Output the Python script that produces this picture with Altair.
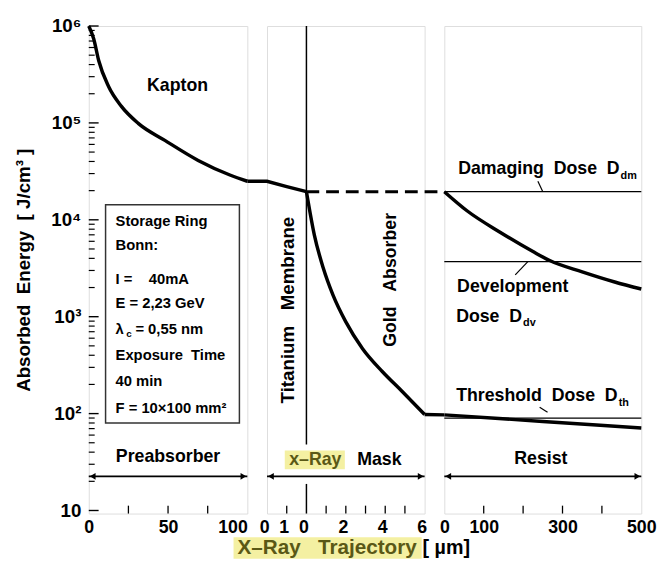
import altair as alt
import pandas as pd

NB = "\u00a0"
FONT = "Liberation Sans"
OLIVE = "#5a5816"
HIGHLIGHT = "#f4f0a2"

# ---------------- data ----------------
KAPTON_X = [0, 3.1, 6.25, 12.5, 20.6, 31.2, 48, 69, 89, 100]
KAPTON_E = [1.0e6, 7.4e5, 4.4e5, 2.37e5, 1.48e5, 9.9e4, 6.6e4, 4.1e4, 2.9e4, 2.5e4]

TI_X = [-1, 0, 1, 2]
TI_E = [2.5e4, 2.5e4, 2.2e4, 1.95e4]

GOLD_X = [2, 2.4, 2.85, 3.35, 4.0, 4.85, 5.85, 6.85, 8]
GOLD_E = [1.95e4, 7.0e3, 3.2e3, 1.67e3, 885, 468, 272, 170, 98]

GAP_X = [8, 9]
GAP_E = [98, 97]

DASH_X = [2, 9]
DASH_E = [1.95e4, 1.95e4]

RES_HIGH_X = [0, 57.5, 142.5, 225, 267.5, 350, 432.5, 500]
RES_HIGH_E = [1.95e4, 1.24e4, 7.4e3, 4.7e3, 3.8e3, 2.9e3, 2.28e3, 1.93e3]

RES_LOW_X = [0, 250, 500]
RES_LOW_E = [97, 83, 71]

DOSE_E = [1.95e4, 3.7e3, 90]          # damaging, development, threshold
SPAN_E = 22.5                        # level of the thickness arrows

MEMBRANE_X = 2
MEMBRANE_TOP = [1e6, 48]
MEMBRANE_BOTTOM = [9.3, 18.8]

Y_DOMAIN = [9.3, 1e6]
Y_TICKS = [10, 100, 1000, 10000, 100000, 1000000]
Y_TICK_LABELS = ["10", "10²", "10³", "10⁴", "10⁵", "10⁶"]
Y_MINOR = [m * 10 ** k for k in range(1, 6) for m in range(2, 10)]

P1_DOMAIN = [0, 100]
P1_TICKS = [0, 50, 100]
P1_TICK_LABELS = ["0", "50", "100"]
P1_INNER = [25, 50, 75]

P2_DOMAIN = [0, 8]
P2_TICKS = [0, 1, 2, 4, 6, 8]
P2_TICK_LABELS = ["0", "1", "0", "2", "4", "6"]
P2_INNER = [1, 3, 4, 5, 6, 7]

P3_DOMAIN = [0, 500]
P3_TICKS = [0, 100, 300, 500]
P3_TICK_LABELS = ["0", "100", "300", "500"]
P3_INNER = [100, 200, 300, 400]

INFO_BOX = dict(x=[10.6], x2=[95], e=[1.43e4], e2=[80])
INFO_TEXT = ["Storage Ring", "Bonn:", f"I{NB}={NB*4}40mA", f"E{NB}={NB}2,23{NB}GeV",
             "λ", f"={NB}0,55{NB}nm", f"Exposure{NB}{NB}Time", f"40{NB}min", f"F{NB}={NB}10×100{NB}mm²"]
INFO_X = [16.9, 16.9, 16.9, 16.9, 16.9, 29.4, 16.9, 16.9, 16.9]
INFO_E = [9.8e3, 5.45e3, 2.44e3, 1.38e3, 750, 750, 406, 215, 113]
LAMBDA_SUB = dict(x=[23.6], e=[660], t=["c"])

W1, W2, W3, H = 161, 160, 200, 495


def d(**cols):
    return pd.DataFrame(cols)


def yenc(axis=None):
    return alt.Y("e:Q", scale=alt.Scale(type="log", domain=Y_DOMAIN, nice=False), axis=axis)


def y2enc():
    return alt.Y2("e2:Q")


def xaxis(ticks, labels, align="center", offset=0):
    expr = "{" + ",".join(f"'{t}':'{l}'" for t, l in zip(ticks, labels)) + "}[datum.value]"
    return alt.Axis(values=ticks, labelExpr=expr, title=None, ticks=False, domain=False,
                    grid=False, labelFont=FONT, labelFontSize=18, labelFontWeight="bold",
                    labelPadding=5, labelFlush=False, labelColor="black",
                    labelAlign=align, labelOffset=offset)


YAXIS = alt.Axis(
    values=Y_TICKS,
    labelExpr="{" + ",".join(f"'{t}':'{l}'" for t, l in zip(Y_TICKS, Y_TICK_LABELS)) + "}[datum.value]",
    title=f"Absorbed{NB}{NB}Energy{NB}{NB}[{NB}J/cm³{NB}]",
    ticks=False, domain=False, grid=False,
    labelFont=FONT, labelFontSize=19, labelFontWeight="bold", labelColor="black",
    labelPadding=8, minExtent=40, maxExtent=40,
    titleFont=FONT, titleFontSize=19, titleFontWeight="bold", titleColor="black",
    titlePadding=16,
)


def txt(df, size=18, align="center", angle=0, color="black", **kw):
    return alt.Chart(df).mark_text(font=FONT, fontWeight="bold", fontSize=size, align=align,
                                   baseline="middle", angle=angle, color=color, **kw)


def panel(xdom, xax, inner, layers_fn, yaxis=None):
    def X(field="x"):
        return alt.X(f"{field}:Q", scale=alt.Scale(domain=xdom, nice=False, zero=False), axis=xax)
    layers = layers_fn(X, yaxis)
    # inner x ticks
    layers.append(alt.Chart(d(x=inner)).mark_rule(color="black", strokeWidth=1.3).encode(
        x=X(), y=alt.value(H), y2=alt.value(H - 8)))
    # thickness arrow
    layers.append(alt.Chart(d(x=[xdom[0]], x2=[xdom[1]], e=[SPAN_E])).mark_rule(
        color="black", strokeWidth=1.6).encode(x=X(), x2="x2:Q", y=yenc(yaxis)))
    layers.append(alt.Chart(d(x=[xdom[0]], e=[SPAN_E])).mark_point(
        shape="triangle-left", filled=True, size=45, color="black", opacity=1, xOffset=4
    ).encode(x=X(), y=yenc(yaxis)))
    layers.append(alt.Chart(d(x=[xdom[1]], e=[SPAN_E])).mark_point(
        shape="triangle-right", filled=True, size=45, color="black", opacity=1, xOffset=-4
    ).encode(x=X(), y=yenc(yaxis)))
    return alt.layer(*layers)


# ---------------- panel 1 : preabsorber ----------------
def p1_layers(X, ya):
    L = []
    L.append(alt.Chart(d(**INFO_BOX)).mark_rect(fill="white", stroke="#333", strokeWidth=1.5).encode(
        x=X(), x2="x2:Q", y=yenc(ya), y2=y2enc()))
    L.append(alt.Chart(d(x=KAPTON_X, e=KAPTON_E)).mark_line(
        color="black", strokeWidth=3.5, interpolate="monotone", clip=False).encode(x=X(), y=yenc(ya)))
    L.append(alt.Chart(d(e=Y_MINOR)).mark_rule(color="black", strokeWidth=1.2).encode(
        y=yenc(ya), x=alt.value(0), x2=alt.value(6)))
    L.append(alt.Chart(d(e=Y_TICKS)).mark_rule(color="black", strokeWidth=1.4).encode(
        y=yenc(ya), x=alt.value(0), x2=alt.value(10)))
    L.append(txt(d(x=INFO_X, e=INFO_E, t=INFO_TEXT), size=15, align="left").encode(
        x=X(), y=yenc(ya), text="t:N"))
    L.append(txt(d(**LAMBDA_SUB), size=10, align="left").encode(x=X(), y=yenc(ya), text="t:N"))
    L.append(txt(d(x=[56], e=[2.4e5], t=["Kapton"])).encode(x=X(), y=yenc(ya), text="t:N"))
    L.append(txt(d(x=[50], e=[36], t=["Preabsorber"])).encode(x=X(), y=yenc(ya), text="t:N"))
    return L


# ---------------- panel 2 : x-ray mask ----------------
def p2_layers(X, ya):
    L = []
    L.append(alt.Chart(d(x=[MEMBRANE_X], e=[MEMBRANE_TOP[0]], e2=[MEMBRANE_TOP[1]])).mark_rule(
        color="black", strokeWidth=1.5).encode(x=X(), y=yenc(ya), y2=y2enc()))
    L.append(alt.Chart(d(x=[MEMBRANE_X], e=[MEMBRANE_BOTTOM[0]], e2=[MEMBRANE_BOTTOM[1]])).mark_rule(
        color="black", strokeWidth=1.5).encode(x=X(), y=yenc(ya), y2=y2enc()))
    L.append(alt.Chart(d(x=TI_X, e=TI_E)).mark_line(
        color="black", strokeWidth=3.5, clip=False).encode(x=X(), y=yenc(ya)))
    L.append(alt.Chart(d(x=GOLD_X, e=GOLD_E)).mark_line(
        color="black", strokeWidth=3.5, interpolate="monotone", clip=False).encode(x=X(), y=yenc(ya)))
    L.append(alt.Chart(d(x=GAP_X, e=GAP_E)).mark_line(
        color="black", strokeWidth=3.5, clip=False).encode(x=X(), y=yenc(ya)))
    L.append(alt.Chart(d(x=DASH_X, e=DASH_E)).mark_line(
        color="black", strokeWidth=3, strokeDash=[13, 7], clip=False).encode(x=X(), y=yenc(ya)))
    L.append(txt(d(x=[1.05], e=[1.17e3], t=[f"Titanium{NB*3}Membrane"]), size=19, angle=270).encode(
        x=X(), y=yenc(ya), text="t:N"))
    L.append(txt(d(x=[6.3], e=[2.4e3], t=[f"Gold{NB*3}Absorber"]), size=18, angle=270).encode(
        x=X(), y=yenc(ya), text="t:N"))
    L.append(alt.Chart(d(x=[0.9], x2=[3.95], e=[26.7], e2=[41.7])).mark_rect(fill=HIGHLIGHT).encode(
        x=X(), x2="x2:Q", y=yenc(ya), y2=y2enc()))
    L.append(txt(d(x=[2.45], e=[33], t=["x–Ray"]), color=OLIVE).encode(x=X(), y=yenc(ya), text="t:N"))
    L.append(txt(d(x=[5.7], e=[33], t=["Mask"])).encode(x=X(), y=yenc(ya), text="t:N"))
    # overall x title, placed below the plot area
    L.append(alt.Chart(d(t=[0])).mark_rect(fill=HIGHLIGHT).encode(
        x=alt.value(-34), x2=alt.value(157), y=alt.value(H + 24), y2=alt.value(H + 46)))
    L.append(txt(d(t=[f"X–Ray{NB*3}Trajectory"]), size=21, color=OLIVE).encode(
        x=alt.value(61), y=alt.value(H + 35), text="t:N"))
    L.append(txt(d(t=[f"[{NB}µm]"]), size=20).encode(x=alt.value(182), y=alt.value(H + 35), text="t:N"))
    return L


# ---------------- panel 3 : resist ----------------
def p3_layers(X, ya):
    L = []
    L.append(alt.Chart(d(e=DOSE_E)).mark_rule(color="black", strokeWidth=1.3).encode(y=yenc(ya)))
    L.append(alt.Chart(d(x=RES_HIGH_X, e=RES_HIGH_E)).mark_line(
        color="black", strokeWidth=3.5, interpolate="monotone").encode(x=X(), y=yenc(ya)))
    L.append(alt.Chart(d(x=RES_LOW_X, e=RES_LOW_E)).mark_line(
        color="black", strokeWidth=3.5, interpolate="monotone").encode(x=X(), y=yenc(ya)))
    # leader strokes
    L.append(alt.Chart(d(x=[237.5, 180, 242], x2=[250, 212, 262], e=[2.5e4, 2.7e3, 116],
                         e2=[1.95e4, 3.7e3, 103])).mark_rule(color="black", strokeWidth=1.2).encode(
        x=X(), x2="x2:Q", y=yenc(ya), y2=y2enc()))
    main = d(x=[447.5, 200, 442.5], e=[3.3e4, 1.0e3, 151],
             t=[f"Damaging{NB}{NB}Dose{NB}{NB}D", f"Dose{NB}{NB}D", f"Threshold{NB}{NB}Dose{NB}{NB}D"])
    L.append(txt(main, align="right", dx=-1).encode(x=X(), y=yenc(ya), text="t:N"))
    subs = d(x=[447.5, 200, 442.5], e=[2.84e4, 865, 128], t=["dm", "dv", "th"])
    L.append(txt(subs, size=11, align="left").encode(x=X(), y=yenc(ya), text="t:N"))
    L.append(txt(d(x=[32.5], e=[2.0e3], t=["Development"]), align="left").encode(
        x=X(), y=yenc(ya), text="t:N"))
    L.append(txt(d(x=[245], e=[34], t=["Resist"])).encode(x=X(), y=yenc(ya), text="t:N"))
    return L


AX1 = xaxis(P1_TICKS, P1_TICK_LABELS,
            align={"expr": f"datum.value == {P1_TICKS[-1]} ? 'right' : 'center'"})
AX2 = xaxis(P2_TICKS, P2_TICK_LABELS, offset=-3)
AX3 = xaxis(P3_TICKS, P3_TICK_LABELS)

c1 = panel(P1_DOMAIN, AX1, P1_INNER, p1_layers, YAXIS).properties(width=W1, height=H)
c2 = panel(P2_DOMAIN, AX2, P2_INNER, p2_layers).properties(width=W2, height=H)
c3 = panel(P3_DOMAIN, AX3, P3_INNER, p3_layers).properties(width=W3, height=H)

chart = alt.hconcat(c1, c2, c3, spacing=20, bounds="flush").properties(
    padding={"left": 6, "top": 4, "right": 4, "bottom": 4}
).configure_view(stroke="black", strokeWidth=2.2).configure(background="white")

chart.save("out.html", embed_options={"renderer": "svg", "actions": False})
